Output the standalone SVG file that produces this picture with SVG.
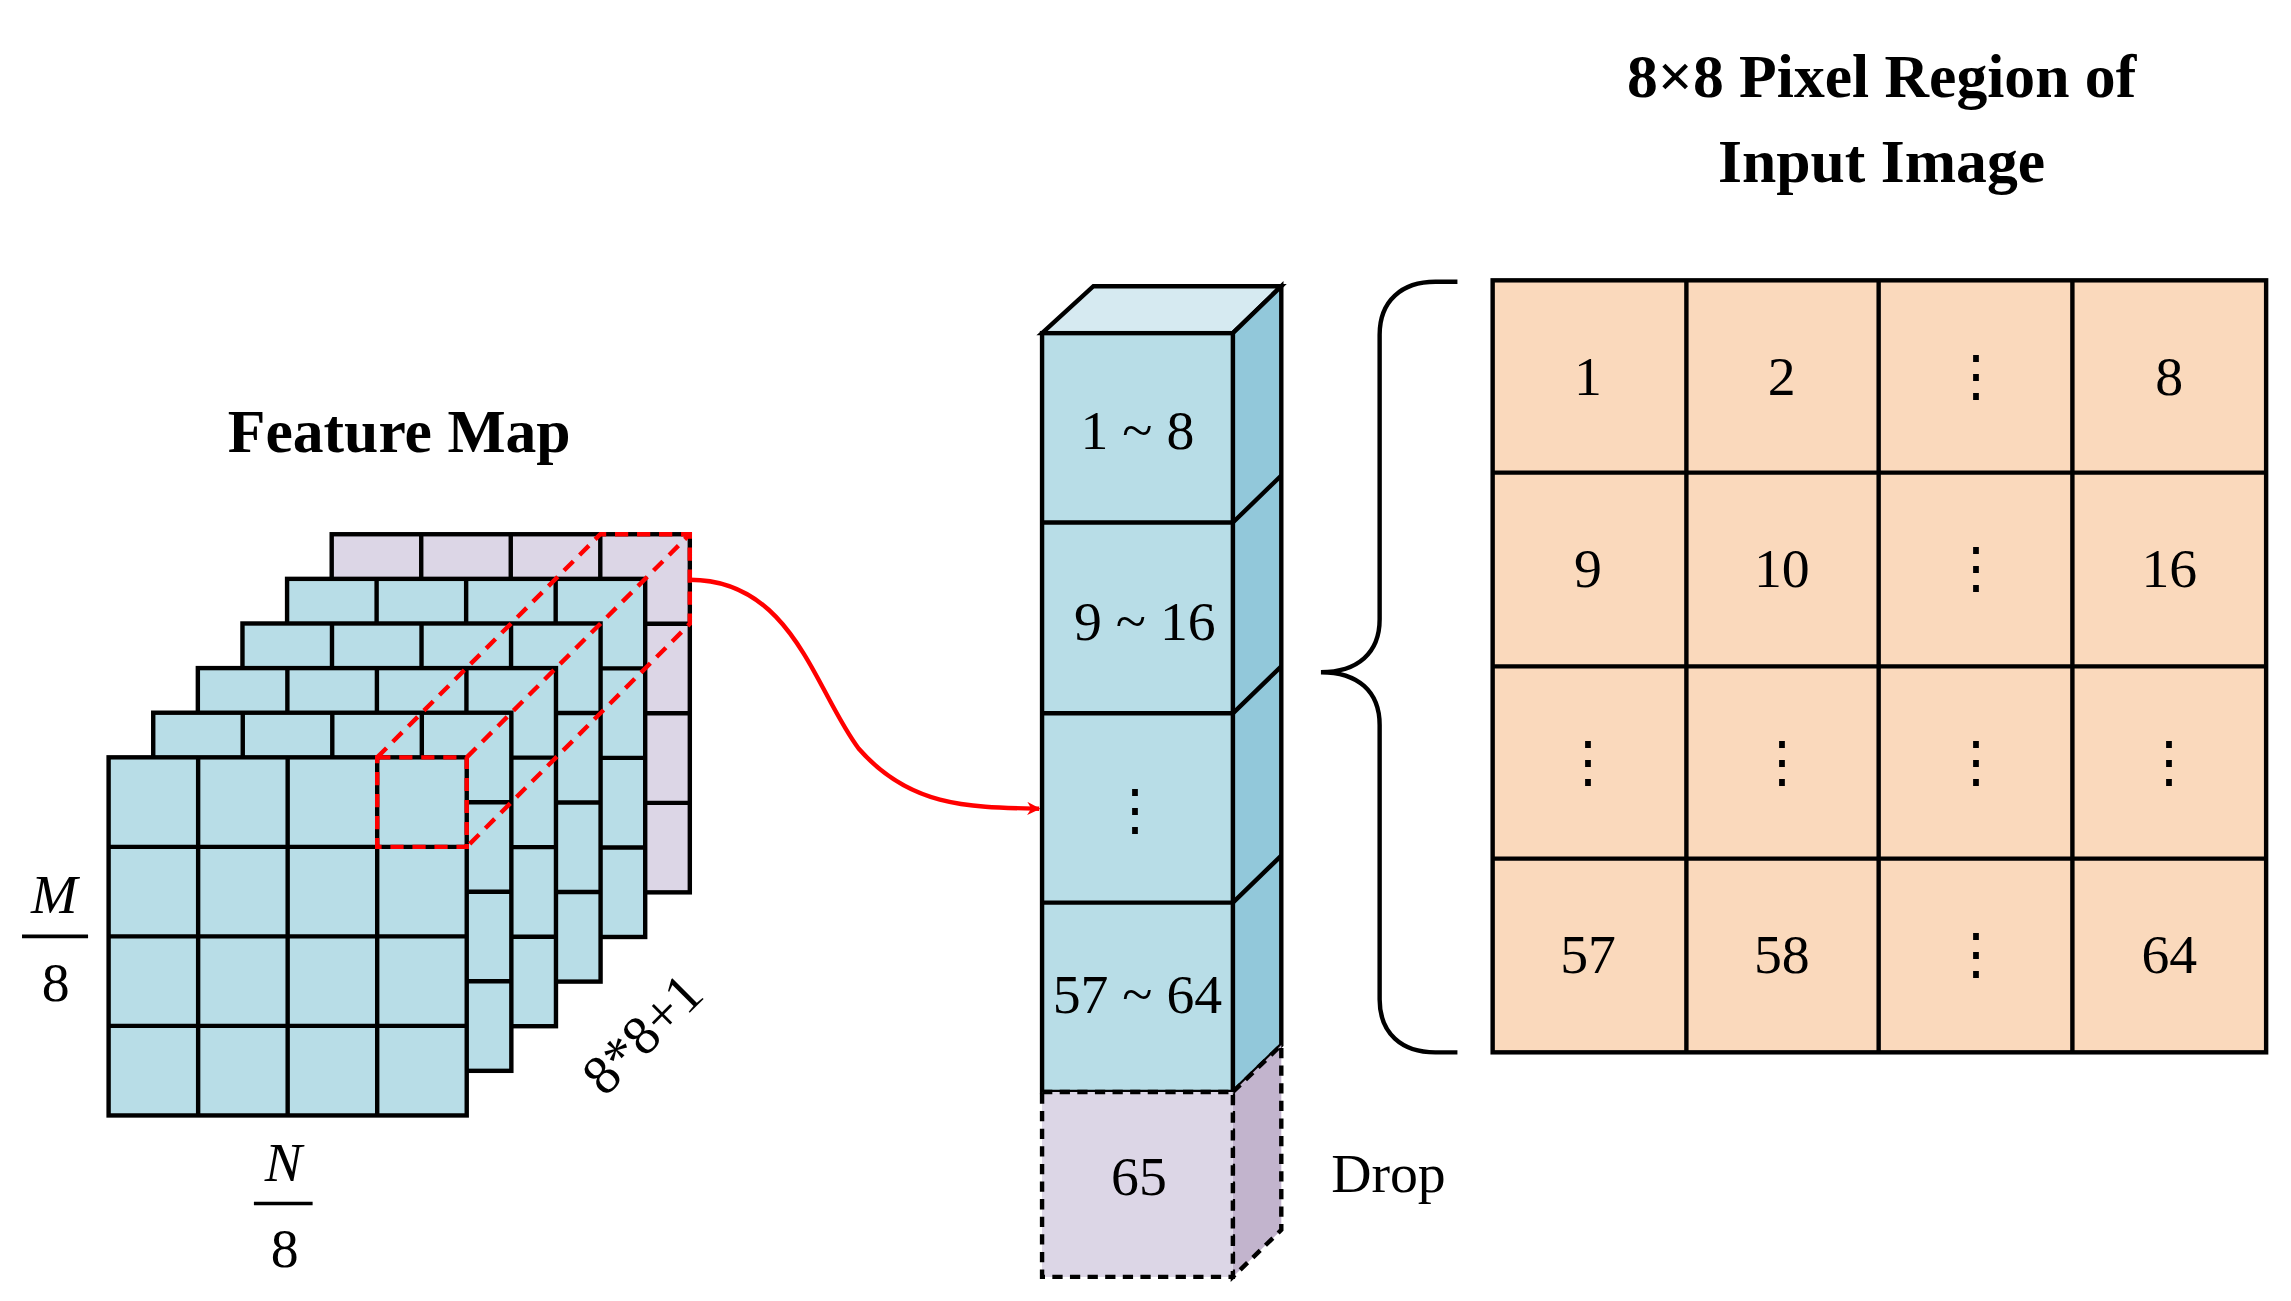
<svg xmlns="http://www.w3.org/2000/svg" xmlns:xlink="http://www.w3.org/1999/xlink" width="2291" height="1301" viewBox="0 0 2291 1301">
<style>
.s{stroke:#000;stroke-width:3;stroke-linejoin:miter}
.t{font-family:"Liberation Serif","DejaVu Serif",serif;font-size:38px;fill:#000;text-anchor:middle}
.b{font-family:"Liberation Serif",serif;font-weight:bold;font-size:42px;text-anchor:middle}
.rd{fill:none;stroke:#f00;stroke-width:3;stroke-dasharray:9 6}
</style>
<defs>
<g id="grid" class="s"><rect x="0" y="0" width="244" height="244"/><path d="M61,0V244M122,0V244M183,0V244M0,61H244M0,122H244M0,183H244" fill="none"/></g>
<marker id="ah" viewBox="0 0 10 10" refX="9" refY="5" markerWidth="9" markerHeight="9" markerUnits="userSpaceOnUse" orient="auto"><path d="M0,0L10,5L0,10L3,5z" fill="#f00"/></marker>
</defs>
<rect width="2291" height="1301" fill="#fff"/>
<g transform="scale(1.4677)">
<g id="titles">
<text class="b" x="1282" y="66">8×8 Pixel Region of</text>
<text class="b" x="1282" y="124">Input Image</text>
<text class="b" x="272" y="308">Feature Map</text>
</g>
<g id="feature-map">
<use xlink:href="#grid" x="226" y="364" fill="#dcd6e6"/>
<use xlink:href="#grid" x="195.6" y="394.4" fill="#b8dde7"/>
<use xlink:href="#grid" x="165.2" y="424.8" fill="#b8dde7"/>
<use xlink:href="#grid" x="134.8" y="455.2" fill="#b8dde7"/>
<use xlink:href="#grid" x="104.4" y="485.6" fill="#b8dde7"/>
<use xlink:href="#grid" x="74" y="516" fill="#b8dde7"/>
<path class="rd" d="M257,516H318V577H257Z M257,516L409,364H470V425L318,577 M318,516L470,364"/>
<text class="t" font-style="italic" x="37" y="622">M</text>
<path d="M15,638H60" stroke="#000" stroke-width="2.5"/>
<text class="t" x="38" y="682">8</text>
<text class="t" font-style="italic" x="193" y="805">N</text>
<path d="M173,820H213" stroke="#000" stroke-width="2.5"/>
<text class="t" x="194" y="863">8</text>
<text class="t" transform="translate(438,705) rotate(-45)" x="0" y="12">8*8+1</text>
</g>
<g id="connectors">
<path d="M470,395C540,395 555,470 585,510C620,550 660,550 708,551" fill="none" stroke="#f00" stroke-width="3" marker-end="url(#ah)"/>
</g>
<g id="vector-column">
<path class="s" d="M710,227L745,195H873L840,227Z" fill="#d6eaf1"/>
<path class="s" d="M840,227L873,195V712L840,744Z" fill="#92c8da"/>
<path class="s" d="M840,356L873,324M840,486L873,454M840,615L873,583" fill="none"/>
<rect class="s" x="710" y="227" width="130" height="517" fill="#b8dde7"/>
<path class="s" d="M710,356H840M710,486H840M710,615H840" fill="none"/>
<path d="M840,744L873,712V838L840,870Z" fill="#c2b4cd" stroke="#000" stroke-width="3" stroke-dasharray="7 5"/>
<path d="M710,744H840V870H710Z" fill="#dcd6e6" stroke="#000" stroke-width="3" stroke-dasharray="7 5"/>
<text class="t" x="775" y="306">1 ~ 8</text>
<text class="t" x="780" y="436">9 ~ 16</text>
<text class="t" x="773" y="565">⋮</text>
<text class="t" x="775" y="690">57 ~ 64</text>
<text class="t" x="776" y="814">65</text>
<text class="t" x="946" y="812">Drop</text>
</g>
<g id="brace">
<path d="M993,192H978C955,192 940,205 940,228V422C940,445 925,458 900,458C925,458 940,471 940,494V681C940,704 955,717 978,717H993" fill="none" stroke="#000" stroke-width="3"/>
</g>
<g id="pixel-grid">
<rect class="s" x="1017" y="191" width="527" height="526" fill="#fad9bc"/>
<path class="s" d="M1149,191V717M1280,191V717M1412,191V717M1017,322H1544M1017,454H1544M1017,585H1544" fill="none"/>
<g class="t">
<text x="1082" y="269">1</text><text x="1214" y="269">2</text><text x="1346" y="269">⋮</text><text x="1478" y="269">8</text>
<text x="1082" y="400">9</text><text x="1214" y="400">10</text><text x="1346" y="400">⋮</text><text x="1478" y="400">16</text>
<text x="1082" y="532">⋮</text><text x="1214" y="532">⋮</text><text x="1346" y="532">⋮</text><text x="1478" y="532">⋮</text>
<text x="1082" y="663">57</text><text x="1214" y="663">58</text><text x="1346" y="663">⋮</text><text x="1478" y="663">64</text>
</g>
</g>
</g>
</svg>
